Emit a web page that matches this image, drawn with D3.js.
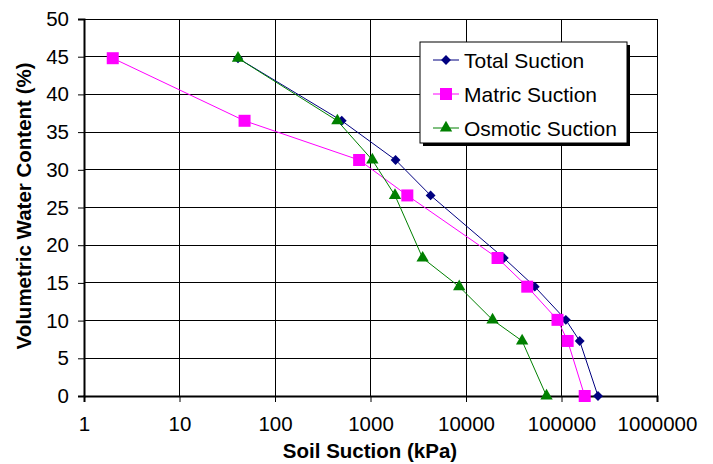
<!DOCTYPE html>
<html>
<head>
<meta charset="utf-8">
<script src="https://cdn.jsdelivr.net/npm/d3@7"></script>
<style>
  body { margin: 0; background: #fff; }
  svg { font-family: "Liberation Sans", Arial, sans-serif; }
</style>
</head>
<body>
<svg id="chart" width="713" height="464"></svg>
<script>
const waterContent = [44.8, 36.5, 31.3, 26.6, 18.3, 14.5, 10.1, 7.3, 0];
const totalSuction = [41, 500, 1830, 4260, 24900, 52500, 111000, 155000, 241000];
const matricSuction = [2, 48, 760, 2430, 21400, 43800, 90800, 116000, 175000];
const osmoticSuction = [41, 450, 1045, 1805, 3515, 8490, 18970, 38700, 69700];
const xTicks = [1, 10, 100, 1000, 10000, 100000, 1000000];
const yTicks = [0, 5, 10, 15, 20, 25, 30, 35, 40, 45, 50];

const series = [
  {name: 'Total Suction', values: totalSuction, color: '#000080', shape: 'diamond'},
  {name: 'Matric Suction', values: matricSuction, color: '#FF00FF', shape: 'square'},
  {name: 'Osmotic Suction', values: osmoticSuction, color: '#008000', shape: 'triangle'},
];

const margin = {top: 19, right: 56, bottom: 68, left: 84};
const width = 713 - margin.left - margin.right;
const height = 464 - margin.top - margin.bottom;

const svg = d3.select('#chart');
const g = svg.append('g').attr('transform', `translate(${margin.left},${margin.top})`);

const x = d3.scaleLog().domain([1, 1000000]).range([0, width]);
const y = d3.scaleLinear().domain([0, 50]).range([height, 0]);

// grid
g.append('g').selectAll('line').data(yTicks).enter().append('line')
    .attr('x1', 0).attr('x2', width)
    .attr('y1', d => y(d)).attr('y2', d => y(d))
    .attr('stroke', '#000').attr('stroke-width', 1).attr('shape-rendering', 'crispEdges');
g.append('g').selectAll('line').data(xTicks).enter().append('line')
    .attr('y1', 0).attr('y2', height)
    .attr('x1', d => x(d)).attr('x2', d => x(d))
    .attr('stroke', '#000').attr('stroke-width', 1).attr('shape-rendering', 'crispEdges');

// axes
const yAxis = g.append('g')
    .call(d3.axisLeft(y).tickValues(yTicks).tickSize(6).tickPadding(9).tickFormat(d3.format('d')));
const xAxis = g.append('g')
    .attr('transform', `translate(0,${height})`)
    .call(d3.axisBottom(x).tickValues(xTicks).tickSize(6).tickPadding(14).tickFormat(d3.format('d')));
[xAxis, yAxis].forEach(ax => {
  ax.select('.domain').attr('stroke', '#000').attr('stroke-width', 2);
  ax.selectAll('.tick line').attr('stroke', '#000');
  ax.selectAll('.tick text').attr('font-size', 20.5).attr('fill', '#000')
      .attr('font-family', '"Liberation Sans", Arial, sans-serif');
});

const symbols = {
  diamond: d3.symbol().type(d3.symbolDiamond2).size(62),
  square: d3.symbol().type(d3.symbolSquare).size(144),
  triangle: d3.symbol().type(d3.symbolTriangle).size(66),
};

const line = d3.line().x(d => x(d[0])).y(d => y(d[1]));

series.forEach(s => {
  const pts = s.values.map((v, i) => [v, waterContent[i]]);
  g.append('path').datum(pts)
      .attr('fill', 'none').attr('stroke', s.color).attr('stroke-width', 1)
      .attr('d', line);
  g.append('g').selectAll('path').data(pts).enter().append('path')
      .attr('transform', d => `translate(${x(d[0])},${y(d[1])})`)
      .attr('d', symbols[s.shape])
      .attr('fill', s.color);
});

// legend
const legend = svg.append('g').attr('transform', 'translate(420,42)');
legend.append('rect').attr('x', 3).attr('y', 3).attr('width', 207).attr('height', 101).attr('fill', '#000');
legend.append('rect').attr('width', 207).attr('height', 101).attr('fill', '#fff').attr('stroke', '#000');
series.forEach((s, i) => {
  const ly = 18 + i * 34;
  legend.append('line').attr('x1', 13).attr('x2', 39).attr('y1', ly).attr('y2', ly)
      .attr('stroke', s.color).attr('stroke-width', 1);
  legend.append('path').attr('transform', `translate(26,${ly})`)
      .attr('d', symbols[s.shape]).attr('fill', s.color);
  legend.append('text').attr('x', 44).attr('y', ly + 7.5)
      .attr('font-size', 21).text(s.name);
});

// titles
svg.append('text')
    .attr('x', 370).attr('y', 458)
    .attr('text-anchor', 'middle').attr('font-size', 20.5).attr('font-weight', 'bold')
    .text('Soil Suction (kPa)');
svg.append('text')
    .attr('transform', 'translate(24,206) rotate(-90)')
    .attr('text-anchor', 'middle').attr('dy', '0.35em')
    .attr('font-size', 20.5).attr('font-weight', 'bold')
    .text('Volumetric Water Content (%)');
</script>
</body>
</html>
